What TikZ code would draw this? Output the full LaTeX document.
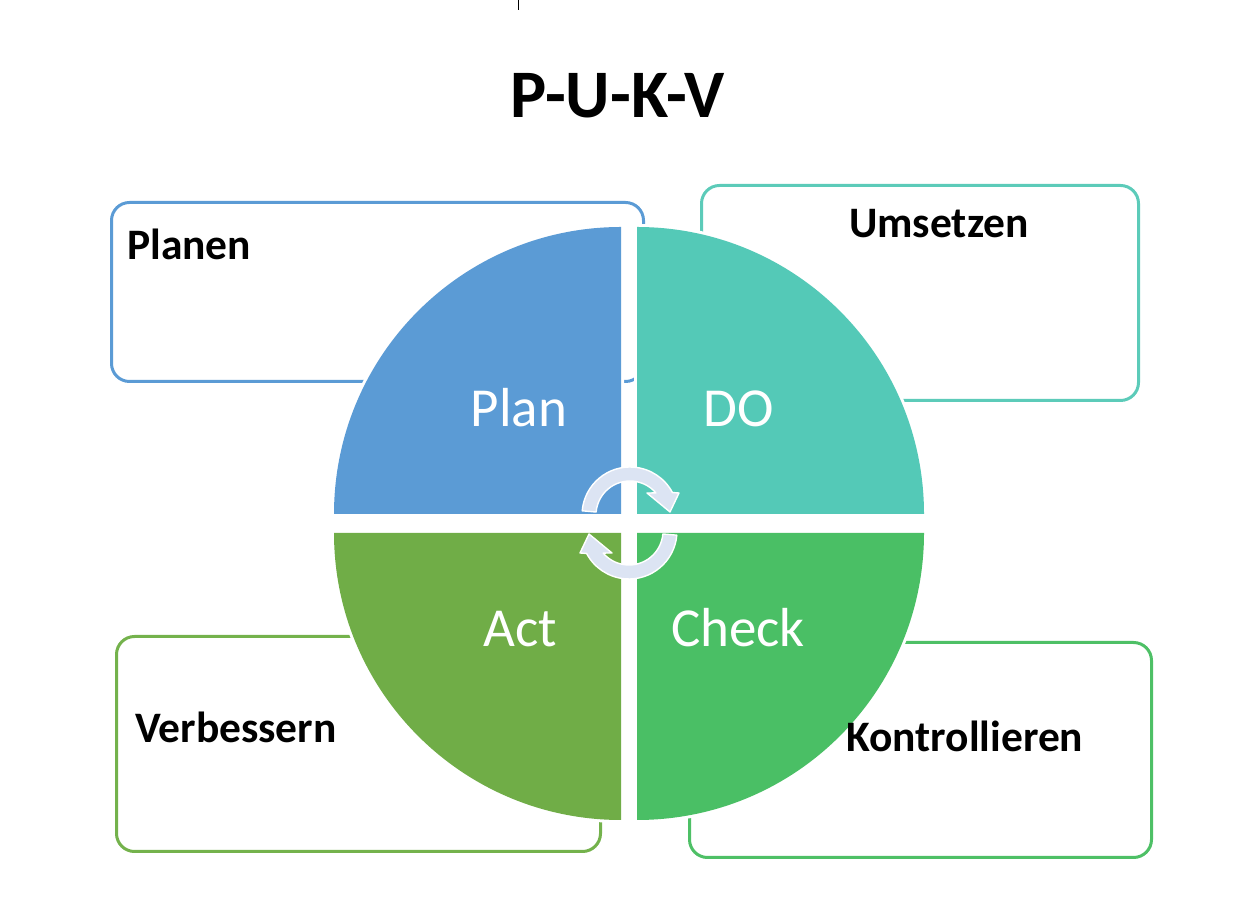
\documentclass[tikz,border=0pt]{standalone}
\usepackage{fontspec}
\setmainfont{Carlito}
\definecolor{planC}{RGB}{91,155,213}
\definecolor{doC}{RGB}{84,201,183}
\definecolor{actC}{RGB}{112,173,71}
\definecolor{checkC}{RGB}{74,191,101}
\definecolor{planL}{RGB}{91,155,213}
\definecolor{doL}{RGB}{92,203,185}
\definecolor{actL}{RGB}{116,178,76}
\definecolor{checkL}{RGB}{78,192,102}
\definecolor{arrowC}{RGB}{220,228,243}
\begin{document}
\begin{tikzpicture}[x=1pt,y=1pt,
  box/.style={draw, line width=3pt, rounded corners=18pt, fill=white, anchor=south west, inner sep=0},
  lab/.style={font=\bfseries\fontsize{43.5}{50}\selectfont, anchor=base west, inner sep=0},
  qlab/.style={text=white, font=\fontsize{55}{60}\selectfont, anchor=base, inner sep=0},
  quad/.style={fill=#1, preaction={draw=white, line width=6pt}},
  arr/.style={fill=arrowC, draw=white, line width=1.4pt, line join=round}]
\useasboundingbox (0,0) rectangle (1255,904);
% small tick at top
\draw[line width=0.8pt] (518,904) -- (518,894);
% title
\node[font=\bfseries\fontsize{68}{72}\selectfont, anchor=base, inner sep=0] (title) at (617.5,786) {P-U-K-V};
% boxes
\node[box, draw=planL, minimum width=532, minimum height=179] (planbox) at (110,521) {};
\node[box, draw=doL, minimum width=437, minimum height=215] (dobox) at (700,502) {};
\node[box, draw=actL, minimum width=484, minimum height=215] (actbox) at (115,51) {};
\node[box, draw=checkL, minimum width=462, minimum height=215] (checkbox) at (688,45) {};
% quadrants
\path[quad=planC] (621,390) -- ++(-287,0) arc[start angle=180,end angle=90,radius=287] -- cycle;
\path[quad=doC] (637,390) -- ++(0,287) arc[start angle=90,end angle=0,radius=287] -- cycle;
\path[quad=actC] (621,371) -- ++(0,-287) arc[start angle=270,end angle=180,radius=287] -- cycle;
\path[quad=checkC] (637,371) -- ++(287,0) arc[start angle=0,end angle=-90,radius=287] -- cycle;
% box labels
\node[lab] (planen) at (127,644) {Planen};
\node[lab] (umsetzen) at (849,666) {Umsetzen};
\node[lab] (verbessern) at (135,161) {Verbessern};
\node[lab] (kontrollieren) at (846,152) {Kontrollieren};
% quadrant labels
\node[qlab] (plan) at (519,477) {Plan};
\node[qlab] (do) at (739,477) {DO};
\node[qlab] (act) at (520,257) {Act};
\node[qlab] (check) at (738,257) {Check};
% circular arrows
\begin{scope}[shift={(630,389)}]
\path[arr] (175:48) arc[start angle=175,end angle=27.9,radius=48] -- (49,22) -- (40,3) -- (17,22) -- (40.5:34) arc[start angle=40.5,end angle=175,radius=34] -- cycle;
\end{scope}
\begin{scope}[shift={(629,373)},rotate=180]
\path[arr] (175:48) arc[start angle=175,end angle=27.9,radius=48] -- (49,22) -- (40,3) -- (17,22) -- (40.5:34) arc[start angle=40.5,end angle=175,radius=34] -- cycle;
\end{scope}
\end{tikzpicture}
\end{document}
